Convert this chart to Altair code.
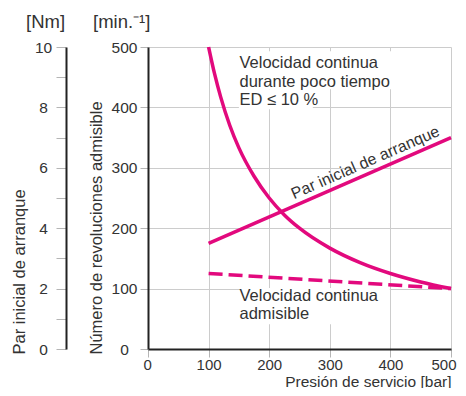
import altair as alt
import pandas as pd

# ---- data ----
pressure_curve = [100, 110, 120, 135, 150, 175, 200, 225, 250, 300, 350, 400, 450, 500]
speed_short = [500, 455, 417, 370, 333, 286, 250, 222, 200, 167, 143, 125, 111, 100]
pressure_line = [100, 500]
speed_cont = [125, 100]
torque_nm = [3.5, 7.0]

x_ticks = list(range(0, 501, 50))
y_ticks = list(range(0, 501, 50))
nm_ticks = list(range(0, 11))

label_short = ["Velocidad continua", "durante poco tiempo", "ED ≤ 10 %"]
label_cont = ["Velocidad continua", "admisible"]
label_torque = "Par inicial de arranque"

MAG = "#e2097d"
FONT = "Liberation Sans"
TXT = "#333333"
GRID = "#cccccc"
TICK = "#b5b5b5"

df_short = pd.DataFrame({"p": pressure_curve, "n": speed_short})
df_cont = pd.DataFrame({"p": pressure_line, "n": speed_cont})
df_torque = pd.DataFrame({"p": pressure_line, "t": torque_nm})

# white boxes behind the annotation text (data coords)
df_boxes = pd.DataFrame({
    "x1": [150, 150, 152],
    "x2": [404, 272, 399],
    "y1": [493, 430, 101],
    "y2": [430, 397, 41],
})
df_txt = pd.DataFrame({
    "p": [151, 151],
    "n": [465, 79.5],
    "label": [label_short, label_cont],
})
df_ttxt = pd.DataFrame({"p": [366], "n": [292], "label": [label_torque]})
one = pd.DataFrame({"a": [0]})

xscale = alt.Scale(domain=[0, 500], nice=False)
yscale = alt.Scale(domain=[0, 500], nice=False)

x_axis = alt.Axis(
    values=x_ticks,
    labelExpr="datum.value % 100 == 0 ? datum.label : ''",
    labelFlush=True, labelFlushOffset=5,
    title="Presión de servicio [bar]",
    domainColor="#222222", domainWidth=2,
    tickColor=TICK, tickSize=8, labelPadding=0,
    labelFont=FONT, labelFontSize=15, labelColor=TXT,
    grid=True, gridColor=GRID, gridWidth=1,
    titleFont=FONT, titleFontSize=15.5, titleColor=TXT, titleFontWeight="normal",
    titleX=303, titleY=37, titleAlign="right", titleBaseline="alphabetic",
)
y_axis = alt.Axis(
    values=y_ticks,
    labelExpr="datum.value % 100 == 0 ? datum.label : ''",
    labelFlush=False,
    title="Número de revoluciones admisible",
    domainColor="#222222", domainWidth=2,
    tickColor=TICK, tickSize=8, labelPadding=16,
    labelAlign="center", labelBaseline="middle",
    labelFont=FONT, labelFontSize=15.5, labelColor=TXT,
    grid=True, gridColor=GRID, gridWidth=1,
    titleFont=FONT, titleFontSize=16.5, titleColor=TXT, titleFontWeight="normal",
    titleAngle=270, titleX=-52, titleY=307, titleAlign="left", titleBaseline="middle",
)
nm_axis = alt.Axis(
    orient="left", offset=82,
    values=nm_ticks,
    labelExpr="datum.value % 2 == 0 ? datum.label : ''",
    labelFlush=False,
    title="Par inicial de arranque",
    domainColor="#222222", domainWidth=2,
    tickColor=TICK, tickSize=10, labelPadding=13,
    labelAlign="center", labelBaseline="middle",
    labelFont=FONT, labelFontSize=15.5, labelColor=TXT,
    grid=False,
    titleFont=FONT, titleFontSize=16.5, titleColor=TXT, titleFontWeight="normal",
    titleAngle=270, titleX=-47, titleY=307, titleAlign="left", titleBaseline="middle",
)

boxes = alt.Chart(df_boxes).mark_rect(color="white").encode(
    x=alt.X("x1:Q", scale=xscale, axis=x_axis),
    x2="x2:Q",
    y=alt.Y("y1:Q", scale=yscale, axis=y_axis),
    y2="y2:Q",
)
short_line = alt.Chart(df_short).mark_line(
    color=MAG, strokeWidth=3.5, interpolate="monotone"
).encode(x=alt.X("p:Q", scale=xscale), y=alt.Y("n:Q", scale=yscale))
cont_line = alt.Chart(df_cont).mark_line(
    color=MAG, strokeWidth=3.5, strokeDash=[14, 6]
).encode(x=alt.X("p:Q", scale=xscale), y=alt.Y("n:Q", scale=yscale))
texts = alt.Chart(df_txt).mark_text(
    align="left", baseline="alphabetic", font=FONT, fontSize=16.5,
    color=TXT, lineHeight=18.5
).encode(x=alt.X("p:Q", scale=xscale), y=alt.Y("n:Q", scale=yscale), text="label")
ttext = alt.Chart(df_ttxt).mark_text(
    align="center", baseline="alphabetic", font=FONT, fontSize=16,
    color=TXT, angle=336.4, dy=-6
).encode(x=alt.X("p:Q", scale=xscale), y=alt.Y("n:Q", scale=yscale), text="label")

unit_nm = alt.Chart(one).mark_text(
    text="[Nm]", align="left", baseline="alphabetic", font=FONT, fontSize=18.5, color=TXT
).encode(x=alt.value(-122), y=alt.value(-19))
unit_min = alt.Chart(one).mark_text(
    text="[min.⁻¹]", align="left", baseline="alphabetic", font=FONT, fontSize=18.5, color=TXT
).encode(x=alt.value(-55), y=alt.value(-19))

main = alt.layer(boxes, short_line, cont_line, texts, ttext, unit_nm, unit_min)

torque = alt.Chart(df_torque).mark_line(color=MAG, strokeWidth=3.5).encode(
    x=alt.X("p:Q", scale=xscale),
    y=alt.Y("t:Q", scale=alt.Scale(domain=[0, 10], nice=False), axis=nm_axis),
)

chart = alt.layer(main, torque).resolve_scale(y="independent").properties(
    width=303, height=302,
    padding={"left": 140, "top": 39, "right": 7, "bottom": 39},
    autosize="none",
).configure_view(stroke=None)

chart.save("out.html", embed_options={"renderer": "svg", "actions": False})
